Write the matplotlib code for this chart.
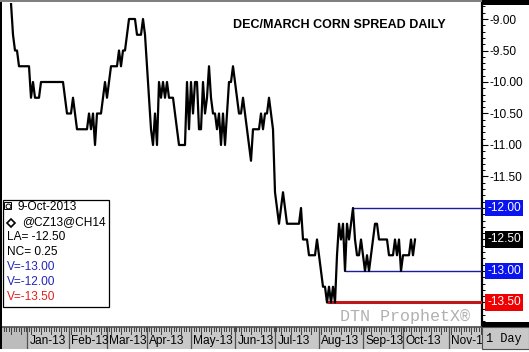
import matplotlib.pyplot as plt
from matplotlib.patches import Rectangle
from matplotlib.lines import Line2D
from matplotlib.ticker import MultipleLocator
from matplotlib.transforms import blended_transform_factory

plt.rcParams['font.family'] = ['Liberation Sans', 'DejaVu Sans']

W, H = 529, 352

# daily closes of the Dec13/Mar14 corn spread, mid-Dec 2012 .. 9-Oct-2013 (one per trading day)
spread = [
    -8.75, -9.25, -9.50, -9.50, -9.75, -9.75, -9.75, -9.75, -9.75, -9.75,
    -10.25, -10.00, -10.25, -10.25, -10.25, -10.00, -10.00, -10.00, -10.00, -10.00,
    -10.00, -10.00, -10.00, -10.00, -10.00, -10.00, -10.00, -10.25, -10.50, -10.50,
    -10.50, -10.25, -10.50, -10.75, -10.75, -10.75, -10.75, -10.75, -10.75, -10.50,
    -10.75, -10.50, -11.00, -10.50, -10.50, -10.50, -10.25, -10.00, -10.25, -10.00,
    -9.75, -9.75, -9.75, -9.75, -9.50, -9.75, -9.50, -9.50, -9.25, -9.00,
    -9.00, -9.00, -9.00, -9.25, -9.25, -9.25, -9.00, -9.25, -9.75, -10.25,
    -10.75, -11.00, -10.50, -11.00, -10.00, -10.25, -10.00, -10.25, -10.00, -10.25,
    -10.25, -10.25, -10.50, -10.75, -11.00, -11.00, -11.00, -11.00, -10.00, -10.75,
    -10.00, -10.50, -10.00, -10.00, -10.75, -10.75, -10.00, -10.50, -10.25, -9.75,
    -10.25, -10.50, -10.50, -10.75, -10.50, -11.00, -10.50, -11.00, -10.50, -10.00,
    -10.00, -9.75, -10.00, -10.25, -10.50, -10.50, -10.25, -10.50, -10.75, -11.00,
    -11.25, -10.75, -10.75, -10.75, -10.75, -10.50, -10.75, -10.50, -10.50, -10.25,
    -10.50, -10.75, -11.75, -12.00, -12.25, -12.00, -11.75, -12.00, -12.25, -12.25,
    -12.25, -12.25, -12.25, -12.25, -12.25, -12.00, -12.50, -12.50, -12.50, -12.75,
    -12.75, -12.75, -12.75, -12.50, -12.75, -13.00, -13.25, -13.25, -13.50, -13.25,
    -13.50, -13.25, -13.50, -12.75, -12.25, -12.50, -12.25, -13.00, -12.25, -12.50,
    -12.25, -12.00, -12.50, -12.75, -12.75, -12.50, -12.75, -13.00, -12.75, -13.00,
    -12.75, -12.50, -12.25, -12.25, -12.50, -12.50, -12.50, -12.50, -12.50, -12.75,
    -12.75, -12.75, -12.50, -12.75, -12.50, -13.00, -12.75, -12.75, -12.75, -12.75,
    -12.50, -12.75, -12.50,
]

# horizontal support / resistance lines
level_values = [-13.00, -12.00, -13.50]
level_start = [167, 171, 158]
level_colors = ['#1c1c9c', '#1c1c9c', '#c01818']
level_widths = [1.0, 1.0, 2.2]

# month cells on the date strip (trading-day index where each month starts)
months = ['Jan-13', 'Feb-13', 'Mar-13', 'Apr-13', 'May-13', 'Jun-13',
          'Jul-13', 'Aug-13', 'Sep-13', 'Oct-13', 'Nov-13']
month_start = [8, 29, 48, 68, 90, 112, 132, 154, 176, 196, 219]

y_ticks = [-9.0, -9.5, -10.0, -10.5, -11.0, -11.5, -12.0, -12.5, -13.0, -13.5]
boxed_ticks = [-12.0, -12.5, -13.0, -13.5]
boxed_colors = ['#0a14f0', '#000000', '#0a14f0', '#f00000']

legend_lines = ['9-Oct-2013', '@CZ13@CH14', 'LA= -12.50', 'NC= 0.25',
                'V=-13.00', 'V=-12.00', 'V=-13.50']
legend_colors = ['black', 'black', 'black', 'black', '#2424b8', '#2424b8', '#e02020']

XMIN, XMAX = -5.5, 235.5
YMIN, YMAX = -13.889, -8.746


def fx(x):
    return x / W


def fy(y):
    return 1 - y / H


fig = plt.figure(figsize=(W / 100, H / 100), dpi=100)

ax = fig.add_axes([0, fy(327), fx(482), (327 - 3) / H])
ax.set_xlim(XMIN, XMAX)
ax.set_ylim(YMIN, YMAX)
ax.plot(range(len(spread)), spread, color='black', lw=1.6, zorder=4)
for v, s, c, lw in zip(level_values, level_start, level_colors, level_widths):
    ax.plot([s, XMAX], [v, v], color=c, lw=lw, zorder=3, solid_capstyle='butt')

for side in ['top', 'bottom', 'left']:
    ax.spines[side].set_visible(False)
ax.spines['right'].set_linewidth(1.6)
ax.set_xticks([])
ax.yaxis.tick_right()
ax.set_yticks(y_ticks)
ax.set_yticklabels(['' if v in boxed_ticks else f'{v:.2f}' for v in y_ticks])
ax.yaxis.set_minor_locator(MultipleLocator(0.1))
ax.tick_params(axis='y', which='major', length=4, width=0.8, pad=1.5, labelsize=8.6)
ax.tick_params(axis='y', which='minor', length=2, width=0.7)

tr = blended_transform_factory(fig.transFigure, ax.transData)
for v, c in zip(boxed_ticks, boxed_colors):
    ax.text(fx(487), v, f'{v:.2f}', transform=tr, ha='left', va='center',
            fontsize=8.6, color='white', clip_on=False,
            bbox=dict(boxstyle='square,pad=0.18', fc=c, ec='none'))

# title and watermark
fig.text(fx(233), fy(25), 'DEC/MARCH CORN SPREAD DAILY', fontsize=9,
         fontweight='bold', ha='left', va='center')
fig.text(fx(340), fy(316), 'DTN ProphetX\u00ae', family='Liberation Mono',
         fontsize=12, color='#b0b0b0', ha='left', va='center')

# info box
fig.patches.append(Rectangle((fx(3), fy(307)), fx(106), (307 - 200) / H,
                             transform=fig.transFigure, fc='white', ec='black', lw=0.9, zorder=5))
fig.patches.append(Rectangle((fx(4), fy(209)), fx(7), 7 / H,
                             transform=fig.transFigure, fc='white', ec='black', lw=0.7, zorder=6))
fig.lines.append(Line2D([fx(7.5)], [fy(205.5)], marker='o', ms=3.5, mfc='none', mec='black',
                        mew=0.7, transform=fig.transFigure, zorder=7))
fig.lines.append(Line2D([fx(11)], [fy(223)], marker='D', ms=4, mfc='white', mec='black',
                        mew=1.2, transform=fig.transFigure, zorder=7))
for k, (txt, c) in enumerate(zip(legend_lines, legend_colors)):
    x0 = 18 if k == 0 else (22 if k == 1 else 7)
    fig.text(fx(x0), fy(207 + 15 * k), txt, fontsize=8.6, color=c,
             ha='left', va='center', zorder=8)

# right panel bars
fig.patches.append(Rectangle((fx(482), fy(5)), fx(47), 5 / H,
                             transform=fig.transFigure, fc='black', ec='none'))
fig.patches.append(Rectangle((fx(482), fy(327)), fx(47), 5 / H,
                             transform=fig.transFigure, fc='black', ec='none'))

# date strip
bx = fig.add_axes([0, fy(349), fx(482), (349 - 327) / H])
bx.set_xlim(XMIN, XMAX)
bx.set_ylim(0, 1)
bx.set_facecolor('#c8c8c8')
bx.set_xticks([])
bx.set_yticks([])
for side in ['bottom', 'left', 'right']:
    bx.spines[side].set_visible(False)
bx.spines['top'].set_color('#505050')
bx.spines['top'].set_linewidth(1.2)
bx.add_patch(Rectangle((XMIN, 0), month_start[0] - XMIN, 1, fc='#bcbcbc', ec='none'))
t = XMIN + 0.6
k = 0
while t < XMAX:
    bx.plot([t, t], [1, 0.8 if k % 4 else 0.68], color='#404040', lw=0.7)
    t += 1.25
    k += 1
ends = month_start[1:] + [XMAX]
for m, s, e in zip(months, month_start, ends):
    bx.plot([s, s], [0, 1], color='#505050', lw=0.9)
    txt = bx.text(s + 1.2, 0.38, m, fontsize=8.6, ha='left', va='center')
    txt.set_clip_path(Rectangle((s, 0), e - s, 1, transform=bx.transData))

fig.patches.append(Rectangle((fx(482), fy(349)), fx(47), 22 / H,
                             transform=fig.transFigure, fc='#c8c8c8', ec='#505050', lw=0.8))
fig.text(fx(486), fy(339), '1 Day', family='Liberation Mono', fontsize=8.6,
         ha='left', va='center')

# outer frame
fig.patches.append(Rectangle((0, fy(349)), fx(2), 349 / H,
                             transform=fig.transFigure, fc='black', ec='none', zorder=10))
fig.patches.append(Rectangle((0, fy(2)), fx(482), 2 / H,
                             transform=fig.transFigure, fc='#808080', ec='none', zorder=10))

fig.savefig('out.png', dpi=100)
